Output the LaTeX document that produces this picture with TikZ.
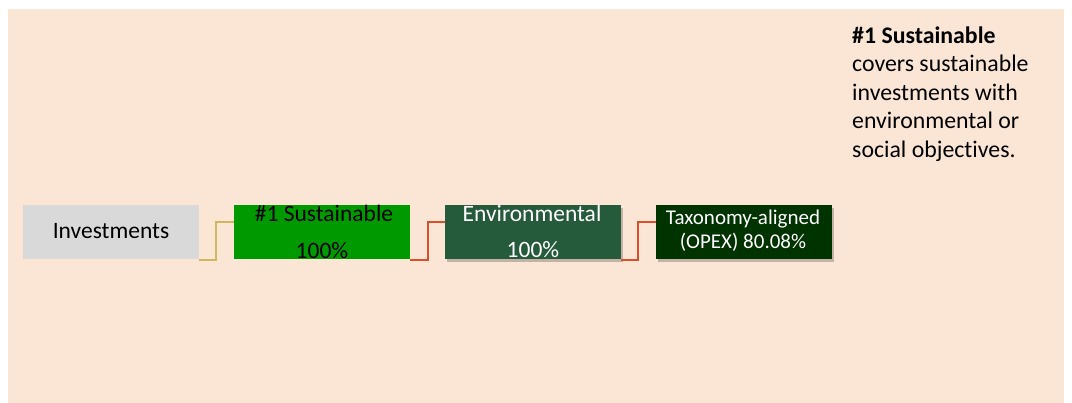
\documentclass[tikz,border=0pt]{standalone}
\usepackage{fontspec}
\setmainfont{Carlito}[Ligatures=NoCommon]
\usetikzlibrary{shadows}
\definecolor{bgc}{HTML}{FBE6D6}
\definecolor{invc}{HTML}{D9D9D9}
\definecolor{susc}{HTML}{009900}
\definecolor{envc}{HTML}{255A3B}
\definecolor{taxc}{HTML}{003300}
\definecolor{ylw}{HTML}{CDB860}
\definecolor{org}{HTML}{D9502E}
\begin{document}
\begin{tikzpicture}[x=1pt,y=-1pt,
  box/.style={draw=none, minimum width=176pt, minimum height=54pt, inner sep=0pt, outer sep=0pt, anchor=north west},
  lbl/.style={inner sep=0pt, anchor=base, font=\fontsize{23.5}{28}\selectfont},
  side/.style={inner sep=0pt, anchor=base west, font=\fontsize{23.8}{28}\selectfont},
  shad/.style={drop shadow={opacity=0.22, shadow xshift=2pt, shadow yshift=-3pt, fill=black}},
  yconn/.style={draw=ylw, line width=1.5pt},
  oconn/.style={draw=org, line width=2.2pt}]
\useasboundingbox (0,0) rectangle (1072,403);
\fill[bgc] (8,9) rectangle (1064,403);

\node[box, fill=invc] (inv) at (23,205) {};
\node[box, fill=susc] (sus) at (234,205) {};
\node[box, fill=envc, shad] (env) at (445,205) {};
\node[box, fill=taxc, shad] (tax) at (656,205) {};

\draw[yconn] ([yshift=-1pt]inv.south east) -- ++(17,0) |- ([yshift=10pt]sus.west);
\draw[oconn] ([yshift=-1pt]sus.south east) -- ++(18,0) |- ([yshift=10pt]env.west);
\draw[oconn] ([yshift=-1pt]env.south east) -- ++(17,0) |- ([yshift=10pt]tax.west);

\node[lbl] (invT) at (111,239) {Investments};
\node[lbl] (susT1) at (324,222) {\#1 Sustainable};
\node[lbl] (susT2) at (322,259) {100\%};
\node[lbl, text=white] (envT1) at (532,222) {Environmental};
\node[lbl, text=white] (envT2) at (533,258) {100\%};
\node[lbl, text=white, font=\fontsize{21}{24}\selectfont] (taxT1) at (743,225) {Taxonomy-aligned};
\node[lbl, text=white, font=\fontsize{21}{24}\selectfont] (taxT2) at (743,249) {(OPEX) 80.08\%};

\node[side, font=\fontsize{23.8}{28}\selectfont\bfseries] (d1) at (852,43.3) {\#1 Sustainable};
\node[side] (d2) at (852,71.8) {covers sustainable};
\node[side] (d3) at (852,100.3) {investments with};
\node[side] (d4) at (852,128.8) {environmental or};
\node[side] (d5) at (852,157.3) {social objectives.};
\end{tikzpicture}
\end{document}
